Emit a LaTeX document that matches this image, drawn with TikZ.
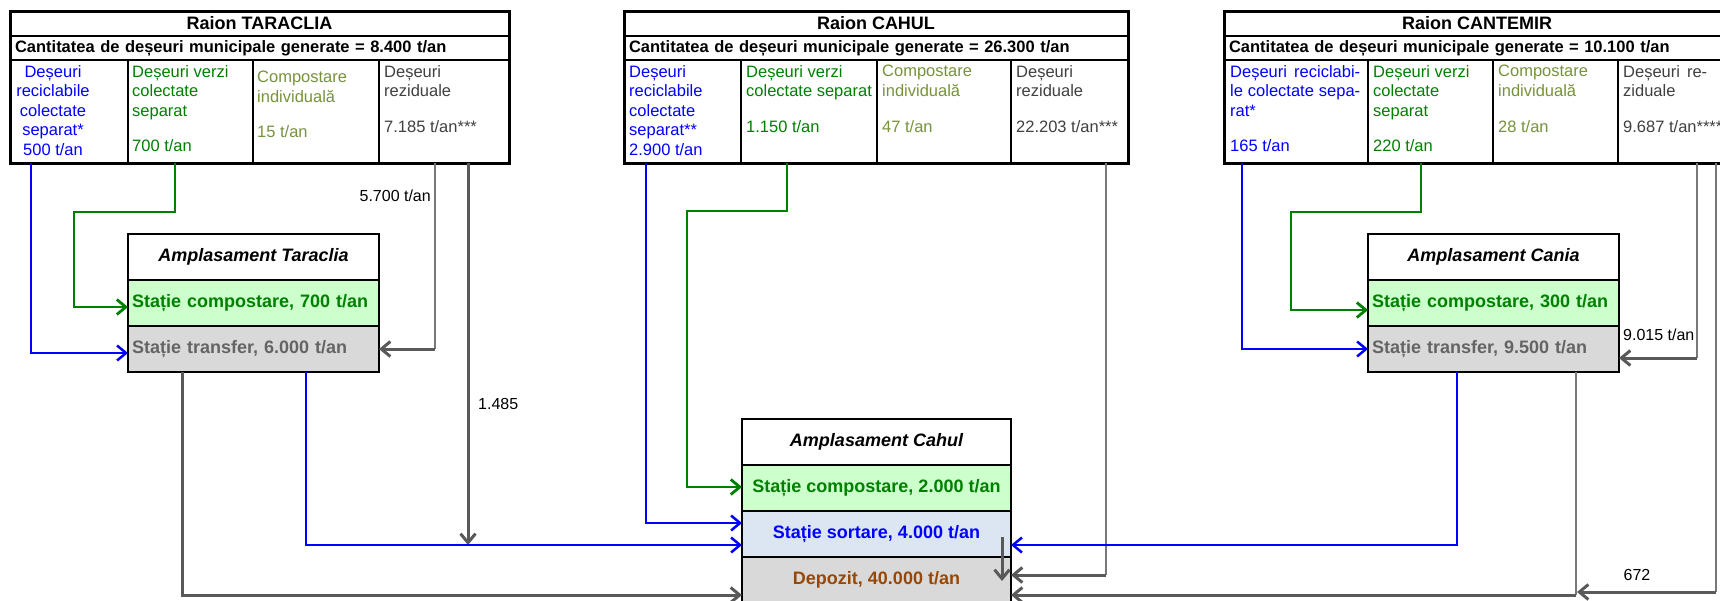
\documentclass[tikz,border=0pt]{standalone}
\usepackage{fontspec}
\setmainfont{Liberation Sans}
\usetikzlibrary{arrows.meta}
\definecolor{cblue}{RGB}{0,0,255}
\definecolor{cgreen}{RGB}{0,128,0}
\definecolor{colive}{RGB}{119,147,60}
\definecolor{cgreytxt}{RGB}{64,64,64}
\definecolor{lgreen}{RGB}{204,255,204}
\definecolor{lgrey}{RGB}{217,217,217}
\definecolor{lblue}{RGB}{220,230,242}
\definecolor{tgrey}{RGB}{100,100,100}
\definecolor{cbrown}{RGB}{151,72,6}
\definecolor{dgrey}{RGB}{89,89,89}
\definecolor{mgrey}{RGB}{120,120,120}
\begin{document}
\begin{tikzpicture}[x=1pt,y=-1pt,
 cell/.style={draw=black, line width=1.3pt, inner sep=0pt, outer sep=0pt, anchor=north west, minimum height=103pt},
 titlecell/.style={draw=black, line width=1.3pt, inner sep=0pt, outer sep=0pt, anchor=north west, minimum height=25pt, font=\fontsize{18}{21}\selectfont\bfseries},
 gencell/.style={draw=black, line width=1.3pt, inner ysep=0pt, inner xsep=5pt, outer sep=0pt, anchor=north west, minimum height=24pt, align=left, font=\fontsize{16.5}{19}\selectfont\bfseries},
 ctext/.style={inner sep=0pt, anchor=north west, align=left, font=\fontsize{16.5}{19.5}\selectfont},
 abox/.style={draw=black, line width=1.4pt, inner ysep=0pt, outer sep=0pt, anchor=north west, minimum height=46pt, font=\fontsize{18}{21}\selectfont\bfseries},
 lbl/.style={inner sep=0pt, font=\fontsize{16}{19}\selectfont},
 tipb/.style={-{Straight Barb[length=9pt,width=15pt]}},
 bl/.style={draw=cblue, line width=2.5pt, tipb},
 gr/.style={draw=cgreen, line width=2.8pt, tipb},
 ga/.style={draw=dgrey, line width=3pt, tipb},
 gt/.style={draw=mgrey, line width=1.9pt}
]
\path[use as bounding box, clip] (0,0) rectangle (1720,600);
\fill[white] (0,0) rectangle (1720,600);

% ---------- Raion TARACLIA ----------
\node[titlecell, minimum width=499pt] (taT) at (10,11) {Raion TARACLIA};
\node[gencell, text width=489pt] (taG) at (10,36) {Cantitatea de deșeuri municipale generate = 8.400 t/an};
\node[cell, minimum width=118pt] (ta1) at (10,60) {};
\node[cell, minimum width=125pt] (ta2) at (128,60) {};
\node[cell, minimum width=126pt] (ta3) at (253,60) {};
\node[cell, minimum width=130pt] (ta4) at (379,60) {};
\draw[line width=3pt] (taT.north west) rectangle (ta4.south east);
\draw[line width=2.3pt] (taT.south west) -- (taT.south east);
\node[ctext, anchor=north, align=center, text=cblue] (ta1t) at (53,65) {Deșeuri\\reciclabile\\colectate\\separat*\\500 t/an};
\node[ctext, text=cgreen] (ta2t) at (132,65) {Deșeuri verzi\\colectate\\separat\\[16pt]700 t/an};
\node[ctext, text=colive] (ta3t) at (257,71) {Compostare\\individuală\\[15.5pt]15 t/an};
\node[ctext, text=cgreytxt] (ta4t) at (384,65) {Deșeuri\\reziduale\\[16.5pt]7.185 t/an***};

% ---------- Raion CAHUL ----------
\node[titlecell, minimum width=504pt] (caT) at (624,11) {Raion CAHUL};
\node[gencell, text width=494pt] (caG) at (624,36) {Cantitatea de deșeuri municipale generate = 26.300 t/an};
\node[cell, minimum width=117pt] (ca1) at (624,60) {};
\node[cell, minimum width=136pt] (ca2) at (741,60) {};
\node[cell, minimum width=134pt] (ca3) at (877,60) {};
\node[cell, minimum width=117pt] (ca4) at (1011,60) {};
\draw[line width=3pt] (caT.north west) rectangle (ca4.south east);
\draw[line width=2.3pt] (caT.south west) -- (caT.south east);
\node[ctext, text=cblue] (ca1t) at (629,65) {Deșeuri\\reciclabile\\colectate\\separat**\\2.900 t/an};
\node[ctext, text=cgreen] (ca2t) at (746,65) {Deșeuri verzi\\colectate separat\\[16.5pt]1.150 t/an};
\node[ctext, text=colive] (ca3t) at (882,65) {Compostare\\individuală\\[16.5pt]47 t/an};
\node[ctext, text=cgreytxt] (ca4t) at (1016,65) {Deșeuri\\reziduale\\[16.5pt]22.203 t/an***};

% ---------- Raion CANTEMIR ----------
\node[titlecell, minimum width=506pt] (ceT) at (1224,11) {Raion CANTEMIR};
\node[gencell, text width=496pt] (ceG) at (1224,36) {Cantitatea de deșeuri municipale generate = 10.100 t/an};
\node[cell, minimum width=144pt] (ce1) at (1224,60) {};
\node[cell, minimum width=125pt] (ce2) at (1368,60) {};
\node[cell, minimum width=125pt] (ce3) at (1493,60) {};
\node[cell, minimum width=112pt] (ce4) at (1618,60) {};
\draw[line width=3pt] (ceT.north west) rectangle (ce4.south east);
\draw[line width=2.3pt] (ceT.south west) -- (ceT.south east);
\node[ctext, text=cblue] (ce1t) at (1230,65) {\makebox[130pt][s]{Deșeuri reciclabi-}\\\makebox[130pt][s]{le colectate sepa-}\\rat*\\[16pt]165 t/an};
\node[ctext, text=cgreen] (ce2t) at (1373,65) {Deșeuri verzi\\colectate\\separat\\[16pt]220 t/an};
\node[ctext, text=colive] (ce3t) at (1498,65) {Compostare\\individuală\\[16.5pt]28 t/an};
\node[ctext, text=cgreytxt] (ce4t) at (1623,65) {\makebox[84pt][s]{Deșeuri re-}\\ziduale\\[16.5pt]9.687 t/an****};

% ---------- Amplasament Taraclia ----------
\node[abox, minimum width=251pt, font=\fontsize{18}{21}\selectfont\bfseries\itshape] (aTh) at (128,234) {Amplasament Taraclia};
\node[abox, fill=lgreen, text=cgreen, text width=243pt, inner xsep=4pt, align=left] (aTc) at (128,280) {Stație compostare, 700 t/an};
\node[abox, fill=lgrey, text=tgrey, text width=243pt, inner xsep=4pt, align=left] (aTt) at (128,326) {Stație transfer, 6.000 t/an};

% ---------- Amplasament Cania ----------
\node[abox, minimum width=251pt, font=\fontsize{18}{21}\selectfont\bfseries\itshape] (aCh) at (1368,234) {Amplasament Cania};
\node[abox, fill=lgreen, text=cgreen, text width=243pt, inner xsep=4pt, align=left] (aCc) at (1368,280) {Stație compostare, 300 t/an};
\node[abox, fill=lgrey, text=tgrey, text width=243pt, inner xsep=4pt, align=left] (aCt) at (1368,326) {Stație transfer, 9.500 t/an};

% ---------- Amplasament Cahul ----------
\node[abox, minimum width=269pt, font=\fontsize{18}{21}\selectfont\bfseries\itshape] (cH) at (742,419) {Amplasament Cahul};
\node[abox, minimum width=269pt, fill=lgreen, text=cgreen] (cC) at (742,465) {Stație compostare, 2.000 t/an};
\node[abox, minimum width=269pt, fill=lblue, text=cblue] (cS) at (742,511) {\raisebox{-3pt}{Stație sortare, 4.000 t/an}};
\node[abox, minimum width=269pt, fill=lgrey, text=cbrown] (cD) at (742,557) {\raisebox{4pt}{Depozit, 40.000 t/an}};

% ---------- coordinates ----------
\coordinate (k1) at (435,349);
\coordinate (jT) at (468,545);
\coordinate (k3) at (1106,575);
\coordinate (s1) at (1002,537);
\coordinate (s2) at (1002,581);
\coordinate (k4) at (1697,358);
\coordinate (k5) at (1716,592);
\coordinate (k6) at (1576,595);

% ---------- grey connectors ----------
\draw[gt] (ta4.south -| k1) -- (k1);
\draw[ga] (k1) -- (aTt.east |- k1);
\draw[ga] (ta4.south -| jT) -- (jT);
\draw[ga] (aTt.south -| 182,0) -- (182,595) -- (cD.west |- 0,595);
\draw[gt] (ca4.south -| k3) -- (k3);
\draw[ga] (k3) -- (cD.east |- k3);
\draw[ga] (s1) -- (s2);
\draw[gt] (ce4.south -| k4) -- (k4);
\draw[ga] (k4) -- (aCt.east |- k4);
\draw[gt] (ce4.south -| k5) -- (k5);
\draw[ga] (k5) -- ([xshift=1pt]k6 |- k5);
\draw[gt] (aCt.south -| k6) -- (k6);
\draw[ga] (k6) -- (cD.east |- k6);

% ---------- green connectors ----------
\draw[gr] (ta2.south -| 175,0) -- (175,212) -- (74,212) -- (74,307) -- (aTc.west |- 0,307);
\draw[gr] (ca2.south -| 787,0) -- (787,211) -- (687,211) -- (687,487) -- (cC.west |- 0,487);
\draw[gr] (ce2.south -| 1421,0) -- (1421,212) -- (1291,212) -- (1291,310) -- (aCc.west |- 0,310);

% ---------- blue connectors ----------
\draw[bl] (ta1.south -| 31,0) -- (31,353) -- (aTt.west |- 0,353);
\draw[bl] (aTt.south -| 306,0) -- (306,545) -- (cS.west |- 0,545);
\draw[bl] (ca1.south -| 646,0) -- (646,523) -- (cS.west |- 0,523);
\draw[bl] (ce1.south -| 1242,0) -- (1242,349) -- (aCt.west |- 0,349);
\draw[bl] (aCt.south -| 1457,0) -- (1457,545) -- (cS.east |- 0,545);

% ---------- labels ----------
\node[lbl, anchor=mid east] (l1) at (431,199) {5.700 t/an};
\node[lbl, anchor=mid west] (l2) at (478,407) {1.485};
\node[lbl, anchor=mid west] (l3) at (1623,338) {9.015 t/an};
\node[lbl, anchor=mid] (l4) at (1637,578) {672};
\end{tikzpicture}
\end{document}
